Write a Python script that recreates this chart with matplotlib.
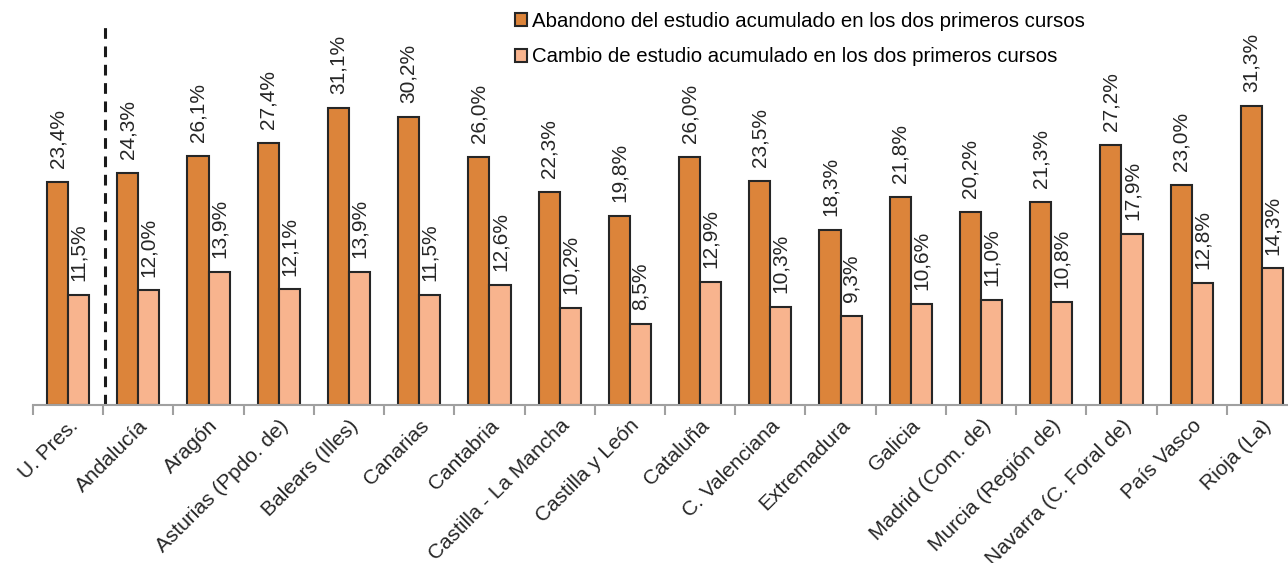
import numpy as np
import matplotlib
matplotlib.use("Agg")
from matplotlib import pyplot as plt
from matplotlib.ticker import FixedLocator

plt.rcParams['font.family'] = ['Liberation Sans', 'DejaVu Sans']

categories = ["U. Pres.", "Andalucía", "Aragón", "Asturias (Ppdo. de)", "Balears (Illes)",
              "Canarias", "Cantabria", "Castilla - La Mancha", "Castilla y León", "Cataluña",
              "C. Valenciana", "Extremadura", "Galicia", "Madrid (Com. de)",
              "Murcia (Región de)", "Navarra (C. Foral de)", "País Vasco", "Rioja (La)"]
abandono = [23.4, 24.3, 26.1, 27.4, 31.1, 30.2, 26.0, 22.3, 19.8, 26.0, 23.5, 18.3, 21.8,
            20.2, 21.3, 27.2, 23.0, 31.3]
cambio = [11.5, 12.0, 13.9, 12.1, 13.9, 11.5, 12.6, 10.2, 8.5, 12.9, 10.3, 9.3, 10.6,
          11.0, 10.8, 17.9, 12.8, 14.3]
series_names = ["Abandono del estudio acumulado en los dos primeros cursos",
                "Cambio de estudio acumulado en los dos primeros cursos"]

W, H = 1288, 563
fig = plt.figure(figsize=(W / 100, H / 100), dpi=100)
ax = fig.add_axes([33 / W, (H - 405) / H, 1264 / W, (405 - 23) / H])

x = np.arange(len(categories))
bw = 0.3
dark = '#DC843A'
light = '#F8B48E'
edge = '#262626'

b1 = ax.bar(x - bw / 2, abandono, bw, color=dark, edgecolor=edge, linewidth=1.5,
            label=series_names[0])
b2 = ax.bar(x + bw / 2, cambio, bw, color=light, edgecolor=edge, linewidth=1.5,
            label=series_names[1])

for bars, vals in ((b1, abandono), (b2, cambio)):
    for r, v in zip(bars, vals):
        ax.annotate(f"{v:.1f}%".replace('.', ','),
                    (r.get_x() + r.get_width() / 2, r.get_height()),
                    xytext=(0, 10), textcoords='offset points',
                    rotation=90, ha='center', va='bottom', fontsize=15, color='#262626')

# separador entre U. Pres. y las comunidades
ax.axvline(0.53, ymin=0, ymax=1, color='#1a1a1a', linestyle=(0, (3.5, 2.5)), linewidth=2.2)

ax.set_xlim(-0.5, 17.5)
ax.set_ylim(0, 40)
for s in ['top', 'right', 'left']:
    ax.spines[s].set_visible(False)
ax.spines['bottom'].set_color('#a0a0a0')
ax.spines['bottom'].set_linewidth(1.5)
ax.set_yticks([])

ax.set_xticks(x)
ax.set_xticklabels(categories, rotation=45, ha='right', rotation_mode='anchor',
                   fontsize=15, color='#262626')
ax.tick_params(axis='x', which='major', length=0, pad=8)
ax.xaxis.set_minor_locator(FixedLocator(np.arange(-0.5, 18, 1)))
ax.tick_params(axis='x', which='minor', length=7, width=1.5, color='#a0a0a0')

fig.legend(loc='upper left', bbox_to_anchor=(515 / W, 1 - 12 / H), frameon=False,
           fontsize=14.7, handlelength=0.6, handleheight=0.6, handletextpad=0.25,
           labelspacing=0.8, borderaxespad=0, borderpad=0)

fig.savefig("out.png", dpi=100)
